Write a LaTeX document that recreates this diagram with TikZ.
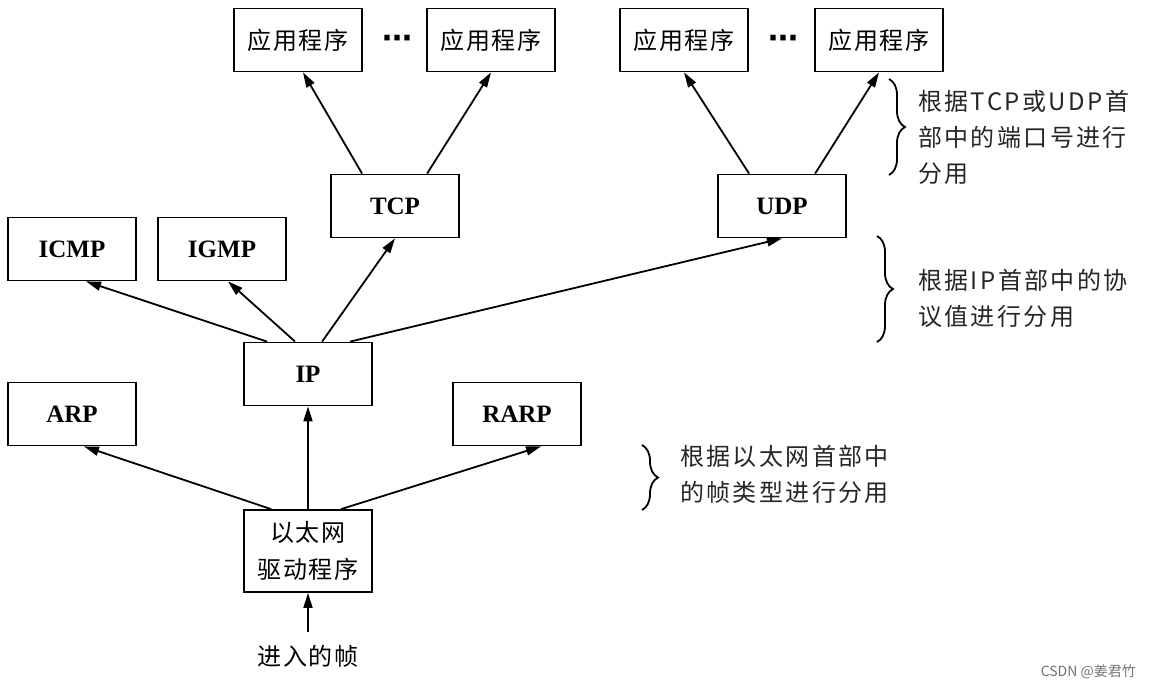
\documentclass[tikz,border=0pt]{standalone}
\usepackage{fontspec}
\setmainfont{Liberation Serif}
\newfontfamily\cjk{Noto Sans CJK SC}
\newfontfamily\cjkw{Noto Sans CJK SC}[LetterSpace=10]
\newfontfamily\cjkb{Noto Sans CJK SC}[LetterSpace=8]
\newfontfamily\dvs{DejaVu Sans}
\usetikzlibrary{arrows.meta,calc,decorations.pathreplacing}
\begin{document}
\begin{tikzpicture}[x=1pt,y=-1pt,
  box/.style={draw,line width=1.8pt,minimum width=128pt,minimum height=63pt,inner sep=0pt,font=\fontsize{25}{30}\selectfont},
  cbox/.style={box,font=\cjkb\fontsize{24}{37}\selectfont,align=center},
  arr/.style={line width=1.8pt,-{Triangle[length=15pt,width=9pt]}},
  brc/.style={decorate,decoration={brace,amplitude=16pt},line width=1.8pt},
  note/.style={align=left,inner sep=0pt,anchor=west,text=black!85,font=\cjkw\fontsize{24}{36}\selectfont},
  dots/.style={inner sep=0pt,font=\dvs\bfseries\fontsize{30}{30}\selectfont}]
\useasboundingbox (0,0) rectangle (1152,689);
\fill[white] (0,0) rectangle (1152,689);

% application boxes
\node[cbox] (app1) at (298,40) {应用程序};
\node[cbox] (app2) at (491,40) {应用程序};
\node[cbox] (app3) at (684,40) {应用程序};
\node[cbox] (app4) at (879,40) {应用程序};
\node[dots] (d1) at (397,42) {⋯};
\node[dots] (d2) at (783,42) {⋯};

% transport
\node[box] (tcp) at (395,206) {\textbf{TCP}};
\node[box] (udp) at (782,206) {\textbf{UDP}};

% network
\node[box] (icmp) at (72,249) {\textbf{ICMP}};
\node[box] (igmp) at (222,249) {\textbf{IGMP}};
\node[box] (ip) at (308,374) {\textbf{IP}};
\node[box] (arp) at (72,414) {\textbf{ARP}};
\node[box] (rarp) at (517,414) {\textbf{RARP}};

% link
\node[cbox,minimum height=82pt] (eth) at (308,551) {以太网\\驱动程序};
\node[inner sep=0pt,font=\cjkb\fontsize{24}{30}\selectfont] (frame) at (308,656) {进入的帧};
\coordinate (fin) at (308,632);

% arrows
\draw[arr] ([xshift=32pt]tcp.north west) -- ([xshift=5pt]app1.south);
\draw[arr] ([xshift=97pt]tcp.north west) -- (app2.south);
\draw[arr] ([xshift=32pt]udp.north west) -- (app3.south);
\draw[arr] ([xshift=98pt]udp.north west) -- (app4.south);

\draw[arr] ([xshift=24pt]ip.north west) -- ([xshift=14pt]icmp.south);
\draw[arr] ([xshift=52pt]ip.north west) -- ([xshift=6pt]igmp.south);
\draw[arr] ([xshift=79pt]ip.north west) -- (tcp.south);
\draw[arr] ([xshift=107pt]ip.north west) -- (udp.south);

\draw[arr] ([xshift=28pt]eth.north west) -- ([xshift=12pt]arp.south);
\draw[arr] (eth.north) -- (ip.south);
\draw[arr] ([xshift=98pt]eth.north west) -- ([xshift=24pt]rarp.south);
\draw[arr] (fin) -- (eth.south);

% braces and notes
\draw[brc] (889,79) -- (889,175);
\node[note] (n1) at (918,137) {根据TCP或UDP首\\部中的端口号进行\\分用};
\draw[brc] (877,236) -- (877,342);
\node[note] (n2) at (918,298) {根据IP首部中的协\\议值进行分用};
\draw[brc] (642,445) -- (642,510);
\node[note] (n3) at (680,474) {根据以太网首部中\\的帧类型进行分用};

% watermark
\node[anchor=east,inner sep=0pt,text=black!55,font=\cjk\fontsize{14}{16}\selectfont] (wm) at (1136,672) {CSDN @姜君竹};
\end{tikzpicture}
\end{document}
